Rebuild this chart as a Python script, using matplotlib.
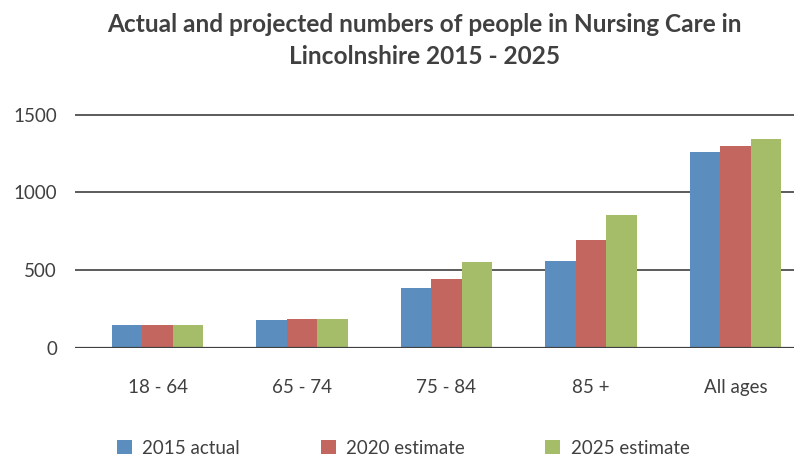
import numpy as np
import matplotlib
matplotlib.use("Agg")
import matplotlib.pyplot as plt
from matplotlib.patches import Patch

plt.rcParams['font.family'] = ['Lato', 'DejaVu Sans']

categories = ["18 - 64", "65 - 74", "75 - 84", "85 +", "All ages"]
series_names = ["2015 actual", "2020 estimate", "2025 estimate"]
actual_2015 = [150, 180, 386, 559, 1260]
estimate_2020 = [150, 186, 444, 694, 1299]
estimate_2025 = [150, 186, 553, 855, 1344]
colors = ["#5B8DBF", "#C3665F", "#A5BC69"]
text_col = "#404040"

fig = plt.figure(figsize=(7.94, 4.59), dpi=100)
ax = fig.add_axes([75 / 794, 1 - 348 / 459, 719 / 794, 234.9 / 459])

x = np.arange(len(categories))
w = 0.211
for i, (vals, c) in enumerate(zip([actual_2015, estimate_2020, estimate_2025], colors)):
    ax.bar(x + (i - 1) * w, vals, width=w, color=c, zorder=3)

ax.set_xlim(-0.571, 4.405)
ax.set_ylim(0, 1510)
ax.set_yticks([0, 500, 1000, 1500])
for y in [500, 1000, 1500]:
    ax.axhline(y, color="#404040", lw=1.2, zorder=1)
ax.axhline(0, color="#404040", lw=1.6, zorder=4)

for s in ax.spines.values():
    s.set_visible(False)
ax.tick_params(length=0, labelsize=13.5, colors=text_col)
ax.tick_params(axis='y', pad=13)
ax.tick_params(axis='x', pad=22)
ax.set_xticks(x)
ax.set_xticklabels(categories)

fig.text(0.535, 1 - 24 / 459, "Actual and projected numbers of people in Nursing Care in",
         ha="center", va="center", fontsize=17.6, fontweight="bold", color=text_col)
fig.text(0.535, 1 - 56 / 459, "Lincolnshire 2015 - 2025",
         ha="center", va="center", fontsize=17.6, fontweight="bold", color=text_col)

handles = [Patch(facecolor=c, edgecolor="none") for c in colors]
fig.legend(handles, series_names, loc="center left", bbox_to_anchor=(100 / 794, 1 - 448 / 459),
           ncol=3, frameon=False, fontsize=13.5, handlelength=0.8, handleheight=0.8,
           handletextpad=0.55, columnspacing=4.3, labelcolor=text_col)

fig.savefig("out.png", dpi=100)
